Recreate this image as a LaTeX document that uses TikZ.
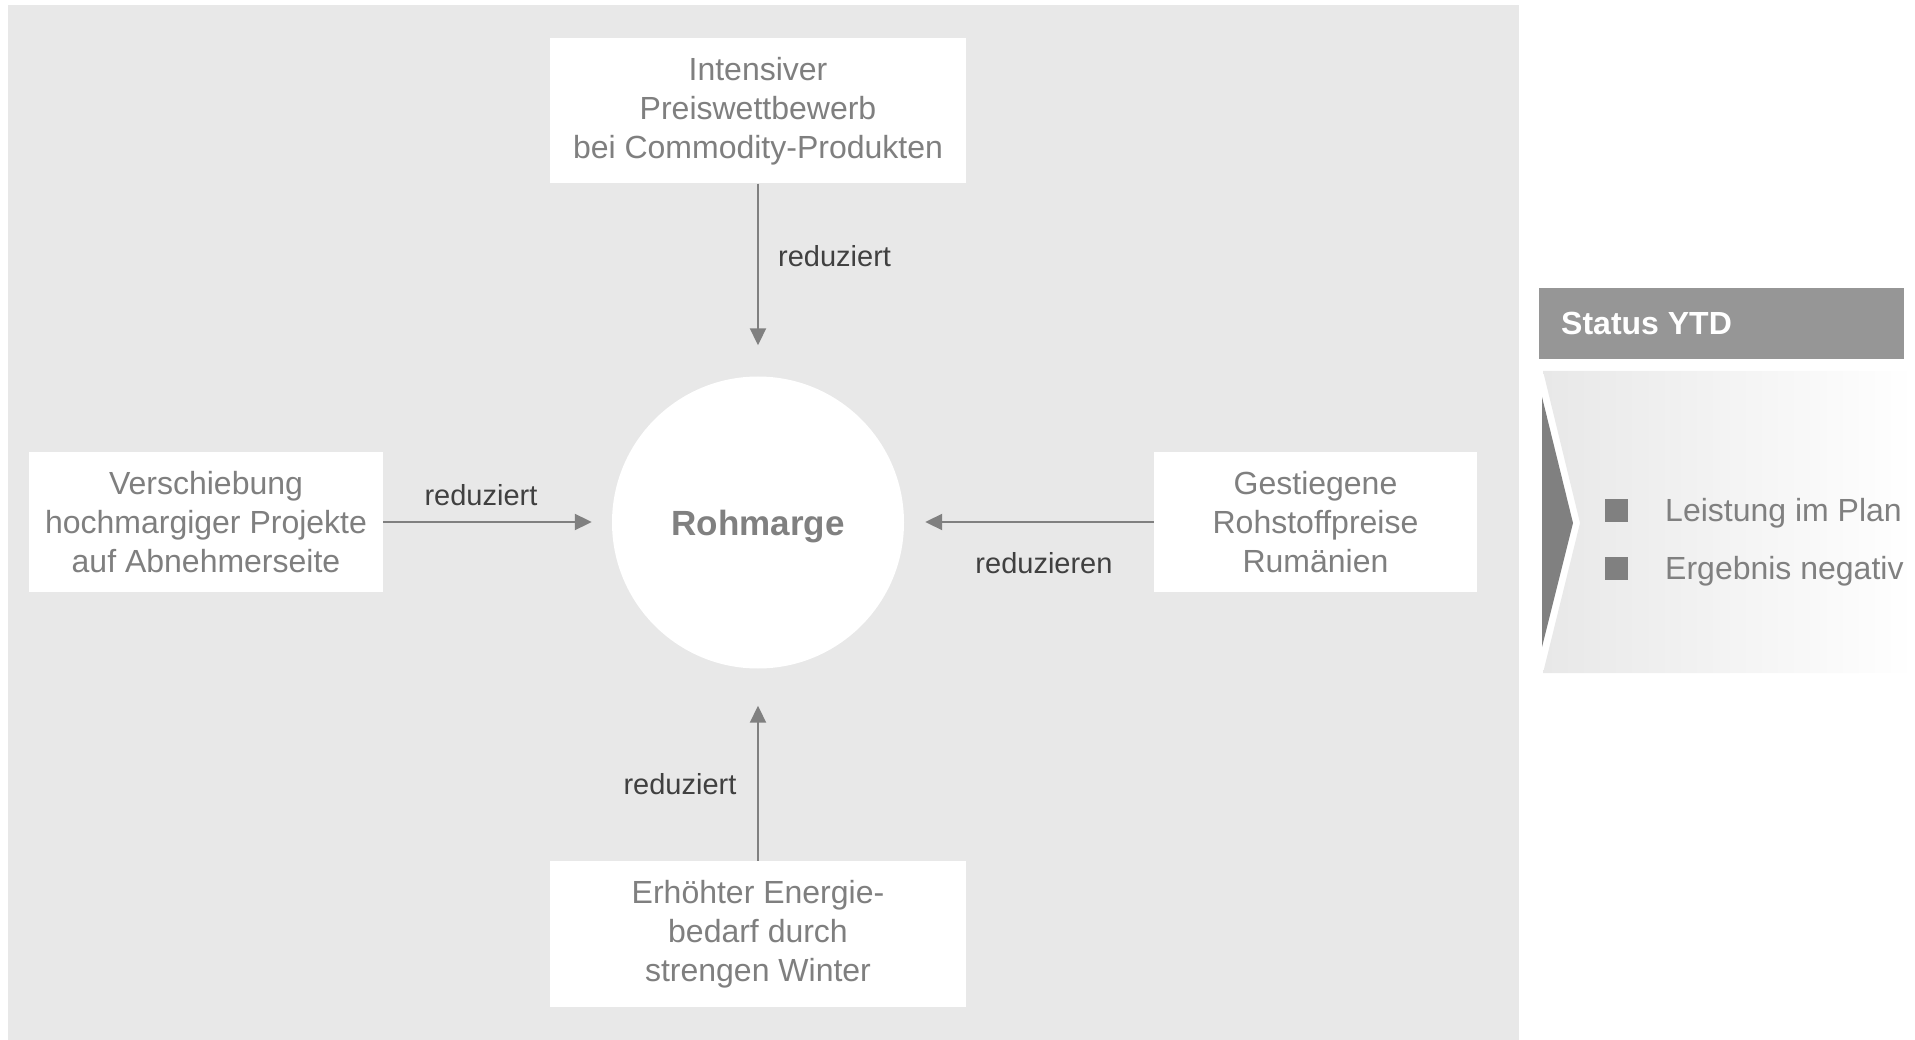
\documentclass[tikz,border=0pt]{standalone}
\usepackage{fontspec}
\setmainfont{Liberation Sans}
\usetikzlibrary{arrows.meta,shadings}
\definecolor{panel}{HTML}{E8E8E8}
\definecolor{txtgray}{HTML}{7F7F7F}
\definecolor{lbl}{HTML}{404040}
\definecolor{hdr}{HTML}{969696}
\definecolor{darkg}{HTML}{808080}
\begin{document}
\begin{tikzpicture}[x=1pt,y=-1pt,
  box/.style={fill=white, draw=none, text=txtgray, align=center, inner sep=0pt, font=\fontsize{32}{39}\selectfont},
  lab/.style={text=lbl, font=\fontsize{29}{34}\selectfont, inner sep=0pt},
  arr/.style={draw=darkg, line width=2pt, -{Triangle[length=17pt,width=16pt]}},
  btxt/.style={anchor=base west, text=darkg, inner sep=0pt, font=\fontsize{32}{38}\selectfont}
]
\useasboundingbox (0,0) rectangle (1915,1040);
\fill[panel] (8,5) rectangle (1519,1040);

\node[box, minimum width=416pt, minimum height=145pt] (top) at (758,111) {Intensiver\\Preiswettbewerb\\bei Commodity-Produkten};
\node[box, minimum width=354pt, minimum height=140pt] (left) at (206,522) {Verschiebung\\hochmargiger Projekte\\auf Abnehmerseite};
\node[box, minimum width=323pt, minimum height=140pt] (right) at (1315.5,522) {Gestiegene\\Rohstoffpreise\\Rumänien};
\node[box, minimum width=416pt, minimum height=146pt] (bot) at (758,934) {Erhöhter Energie-\\bedarf durch\\strengen Winter};

\node[circle, fill=white, minimum size=292pt, inner sep=0pt, text depth=0pt, text=darkg, font=\bfseries\fontsize{35}{42}\selectfont] (rm) at (758,522.5) {Rohmarge};

\draw[arr, shorten >=31pt] (top.south) -- (rm.north);
\draw[arr, shorten >=20pt] (left.east) -- (left.east -| rm.west);
\draw[arr, shorten >=21pt] (right.west) -- (right.west -| rm.east);
\draw[arr, shorten >=37pt] (bot.north) -- (rm.south);

\node[lab, anchor=west] (l1) at (778,256) {reduziert};
\node[lab] (l2) at (481,495) {reduziert};
\node[lab] (l3) at (1044,563) {reduzieren};
\node[lab] (l4) at (680,784) {reduziert};

\fill[hdr] (1539,288) rectangle (1904,359);
\node[anchor=west, text=white, font=\bfseries\fontsize{32}{38}\selectfont, inner sep=0pt] (hd) at (1561,323) {Status YTD};

\shade[left color=panel, right color=white] (1543,371) -- (1915,371) -- (1915,673) -- (1543,673) -- (1580,523) -- cycle;
\fill[darkg] (1542,397) -- (1573,523) -- (1542,647) -- cycle;

\fill[darkg] (1605,499) rectangle (1628,522);
\fill[darkg] (1605,557) rectangle (1628,580);
\node[btxt] (b1) at (1665,521) {Leistung im Plan};
\node[btxt] (b2) at (1665,579) {Ergebnis negativ};
\end{tikzpicture}
\end{document}
